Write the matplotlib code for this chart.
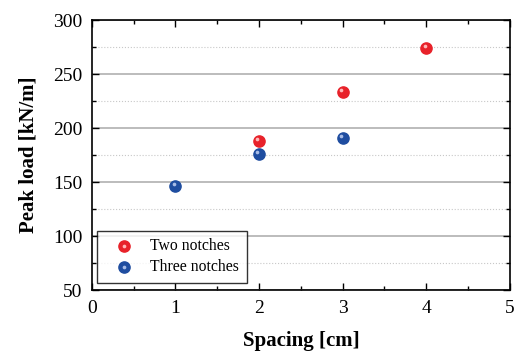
import numpy as np
import matplotlib.pyplot as plt
from matplotlib.legend_handler import HandlerTuple

plt.rcParams['font.family'] = ['Liberation Serif', 'DejaVu Serif']

spacing_two = [2, 3, 4]
load_two = [188, 233, 274]
spacing_three = [1, 2, 3]
load_three = [146, 176, 191]

fig = plt.figure(figsize=(5.16, 3.59), dpi=100)
ax = fig.add_axes([0.178, 0.192, 0.810, 0.752])

ax.set_xlim(0, 5)
ax.set_ylim(50, 300)
ax.set_xticks(np.arange(0, 6, 1))
ax.set_xticks(np.arange(0.5, 5, 1), minor=True)
ax.set_yticks(np.arange(50, 301, 50))
ax.set_yticks(np.arange(75, 300, 50), minor=True)

ax.grid(True, which='major', axis='y', color='#b0b0b0', lw=1.2, ls='-')
ax.grid(True, which='minor', axis='y', color='#c8c8c8', lw=0.8, ls=':')
ax.set_axisbelow(True)

ax.tick_params(which='both', direction='in', top=True, right=True, labelsize=14)
ax.tick_params(which='major', length=5, width=1, pad=7)
ax.tick_params(which='minor', length=3, width=1)
for s in ax.spines.values():
    s.set_linewidth(1.2)

# sphere-looking markers: base dot plus a small highlight
r1 = ax.scatter(spacing_two, load_two, s=65, color='#e8222a', zorder=3)
r2 = ax.scatter(np.array(spacing_two) - 0.02, np.array(load_two) + 2.0, s=7,
                color='#ffb8b8', zorder=4, lw=0)
b1 = ax.scatter(spacing_three, load_three, s=65, color='#1f4da0', zorder=3)
b2 = ax.scatter(np.array(spacing_three) - 0.02, np.array(load_three) + 2.0, s=7,
                color='#a8bce6', zorder=4, lw=0)

ax.set_xlabel('Spacing [cm]', fontsize=15, fontweight='bold', labelpad=10)
ax.set_ylabel('Peak load [kN/m]', fontsize=15, fontweight='bold', labelpad=10)

leg = ax.legend([(r1, r2), (b1, b2)], ['Two notches', 'Three notches'],
                handler_map={tuple: HandlerTuple(ndivide=1)},
                loc='lower left', bbox_to_anchor=(0.012, 0.026), borderaxespad=0,
                fontsize=11.3, frameon=True, fancybox=False, edgecolor='black',
                handletextpad=0.4, borderpad=0.5, labelspacing=0.3,
                handlelength=2.5)
leg.get_frame().set_linewidth(1.0)

fig.savefig('out.png', dpi=100)
